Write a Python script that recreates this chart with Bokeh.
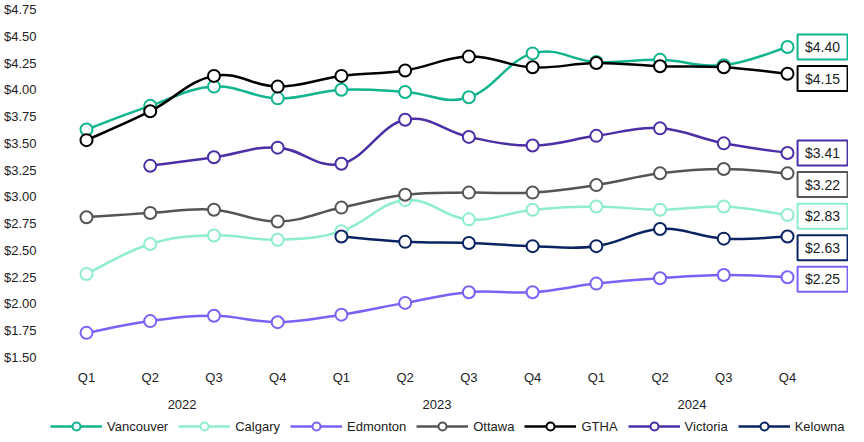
from bokeh.plotting import figure
from bokeh.layouts import column
from bokeh.models import (Range1d, FixedTicker, LinearAxis, Legend, LegendItem,
                          ColumnDataSource, NumeralTickFormatter)
from bokeh.core.properties import value
from bokeh.embed import file_html
from bokeh.resources import INLINE

# ---------------- data ----------------
quarters = ["Q1", "Q2", "Q3", "Q4", "Q1", "Q2", "Q3", "Q4", "Q1", "Q2", "Q3", "Q4"]
years = ["2022", "2023", "2024"]
y_ticks = [1.50, 1.75, 2.00, 2.25, 2.50, 2.75, 3.00, 3.25, 3.50, 3.75, 4.00, 4.25, 4.50, 4.75]

series_names = ["Vancouver", "Calgary", "Edmonton", "Ottawa", "GTHA", "Victoria", "Kelowna"]
vancouver = [3.63, 3.85, 4.03, 3.92, 4.00, 3.98, 3.93, 4.34, 4.26, 4.28, 4.23, 4.40]
calgary   = [2.28, 2.56, 2.64, 2.60, 2.68, 2.97, 2.79, 2.88, 2.91, 2.88, 2.91, 2.83]
edmonton  = [1.73, 1.84, 1.89, 1.83, 1.90, 2.01, 2.11, 2.11, 2.19, 2.24, 2.27, 2.25]
ottawa    = [2.81, 2.85, 2.88, 2.77, 2.90, 3.02, 3.04, 3.04, 3.11, 3.22, 3.26, 3.22]
gtha      = [3.53, 3.80, 4.13, 4.03, 4.13, 4.18, 4.31, 4.21, 4.25, 4.22, 4.21, 4.15]
victoria  = [None, 3.29, 3.37, 3.46, 3.31, 3.72, 3.56, 3.48, 3.57, 3.64, 3.50, 3.41]
kelowna   = [None, None, None, None, 2.63, 2.58, 2.57, 2.54, 2.54, 2.70, 2.61, 2.63]
series_values = [vancouver, calgary, edmonton, ottawa, gtha, victoria, kelowna]

colors = ["#10b48e", "#8eedcc", "#7b61f8", "#555555", "#000000", "#4a2fa6", "#0b2461"]

FONT = "Liberation Sans"
TEXT_COLOR = "#222222"

# ---------------- main figure ----------------
n = len(quarters)
p = figure(width=848, height=416, output_backend="svg", toolbar_location=None,
           x_range=Range1d(-0.565, 11.957), y_range=Range1d(1.5, 4.75),
           min_border_left=42, min_border_right=0, min_border_top=9, min_border_bottom=59)
p.outline_line_color = None
p.xgrid.visible = False
p.ygrid.visible = False
p.background_fill_color = "white"
p.border_fill_color = "white"

# y axis
p.yaxis.ticker = FixedTicker(ticks=y_ticks)
p.yaxis.formatter = NumeralTickFormatter(format="$0.00")
p.yaxis.axis_line_color = None
p.yaxis.major_tick_line_color = None
p.yaxis.minor_tick_line_color = None
p.yaxis.major_label_standoff = 8
p.yaxis.major_label_text_font = FONT
p.yaxis.major_label_text_font_size = "13px"
p.yaxis.major_label_text_color = TEXT_COLOR

# quarter axis
xa = p.xaxis[0]
xa.ticker = FixedTicker(ticks=list(range(n)))
xa.major_label_overrides = {i: q for i, q in enumerate(quarters)}
xa.axis_line_color = None
xa.major_tick_line_color = None
xa.minor_tick_line_color = None
xa.major_label_standoff = 6
xa.major_label_text_font = FONT
xa.major_label_text_font_size = "13px"
xa.major_label_text_color = TEXT_COLOR

# year axis
year_pos = [1.5 + 4 * i for i in range(len(years))]
ya = LinearAxis(ticker=FixedTicker(ticks=year_pos),
                major_label_overrides={yp: yr for yp, yr in zip(year_pos, years)})
ya.axis_line_color = None
ya.major_tick_line_color = None
ya.minor_tick_line_color = None
ya.major_label_standoff = 6
ya.major_label_text_font = FONT
ya.major_label_text_font_size = "13px"
ya.major_label_text_color = TEXT_COLOR
p.add_layout(ya, "below")


def bezier_source(xs, ys, k=0.2):
    d = dict(x0=[], y0=[], x1=[], y1=[], cx0=[], cy0=[], cx1=[], cy1=[])
    m = len(xs)
    for i in range(m - 1):
        xp, yp = (xs[i - 1], ys[i - 1]) if i > 0 else (xs[i], ys[i])
        xn, yn = (xs[i + 2], ys[i + 2]) if i + 2 < m else (xs[i + 1], ys[i + 1])
        d["x0"].append(xs[i]); d["y0"].append(ys[i])
        d["x1"].append(xs[i + 1]); d["y1"].append(ys[i + 1])
        d["cx0"].append(xs[i] + k * (xs[i + 1] - xp))
        d["cy0"].append(ys[i] + k * (ys[i + 1] - yp))
        d["cx1"].append(xs[i + 1] - k * (xn - xs[i]))
        d["cy1"].append(ys[i + 1] - k * (yn - ys[i]))
    return ColumnDataSource(d)


for name, vals, col in zip(series_names, series_values, colors):
    xs = [i for i, v in enumerate(vals) if v is not None]
    ys = [v for v in vals if v is not None]
    p.bezier(x0="x0", y0="y0", x1="x1", y1="y1", cx0="cx0", cy0="cy0",
             cx1="cx1", cy1="cy1", source=bezier_source(xs, ys),
             line_color=col, line_width=2.5)
    p.scatter(x=xs, y=ys, size=12, marker="circle", fill_color="white",
              line_color=col, line_width=2)

# end-value labels, stacked top-down so the boxes don't overlap
last_vals = [vals[-1] for vals in series_values]
order = sorted(range(len(last_vals)), key=lambda i: -last_vals[i])
label_y = [0.0] * len(last_vals)
sep = 0.295
prev = None
for i in order:
    yv = last_vals[i]
    if prev is not None and yv > prev - sep:
        yv = prev - sep
    label_y[i] = yv
    prev = yv

lab_x = [11.55] * len(last_vals)
lab_txt = ["${:.2f}".format(v) for v in last_vals]
p.rect(x=lab_x, y=label_y, width=50, height=25, width_units="screen",
       height_units="screen", fill_color="white", line_color=colors, line_width=2)
p.text(x=lab_x, y=label_y, text=lab_txt, text_align="center", text_baseline="middle",
       text_font=value(FONT), text_font_size="14px", text_color=TEXT_COLOR)

# ---------------- legend strip ----------------
# (same series drawn again, but outside this strip's visible y range,
#  so only the legend entries show)
leg = figure(width=848, height=20, output_backend="svg", toolbar_location=None,
             x_axis_location=None, y_axis_location=None,
             x_range=Range1d(-0.565, 11.957), y_range=Range1d(10, 11),
             min_border_left=42, min_border_right=0, min_border_top=0, min_border_bottom=0)
leg.outline_line_color = None
leg.xgrid.visible = False
leg.ygrid.visible = False
leg.background_fill_color = "white"
leg.border_fill_color = "white"

items = []
for name, vals, col in zip(series_names, series_values, colors):
    xs = [i for i, v in enumerate(vals) if v is not None]
    ys = [v for v in vals if v is not None]
    lr = leg.line(x=xs, y=ys, line_color=col, line_width=2.5)
    sr = leg.scatter(x=xs, y=ys, size=12, marker="circle", fill_color="white",
                     line_color=col, line_width=2)
    items.append(LegendItem(label=name, renderers=[lr, sr]))

legend = Legend(items=items, orientation="horizontal", location=(0, 0),
                glyph_width=52, glyph_height=20, label_height=20, label_standoff=5,
                spacing=10, padding=0, margin=0, border_line_alpha=0,
                background_fill_alpha=0, label_text_font=FONT,
                label_text_font_size="13px", label_text_color=TEXT_COLOR)
leg.add_layout(legend, "center")

page = column(p, leg, spacing=0)
open("out.html", "w").write(file_html(page, INLINE))
